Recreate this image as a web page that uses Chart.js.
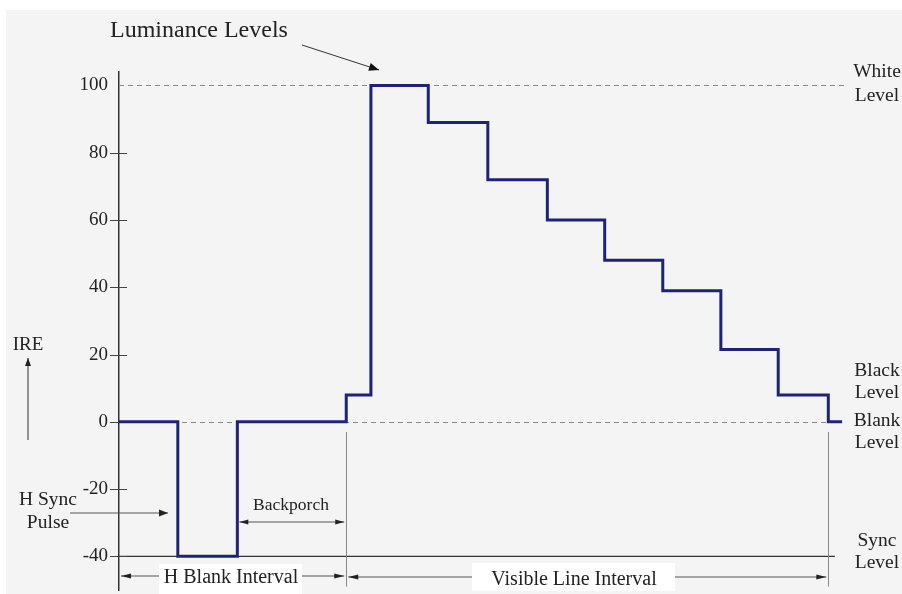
<!DOCTYPE html>
<html>
<head>
<meta charset="utf-8">
<script src="https://cdn.jsdelivr.net/npm/chart.js@4/dist/chart.umd.min.js"></script>
<style>
html,body{margin:0;padding:0;background:#fff;}
#wrap{width:902px;height:594px;position:relative;}
</style>
</head>
<body>
<div id="wrap"><canvas id="c" width="902" height="594"></canvas></div>
<script>
// Step edges (time units along the line) and the IRE level held between consecutive edges
const edges  = [0, 8.1, 16.3, 31.3, 34.7, 42.6, 50.8, 59.0, 66.9, 74.9, 82.9, 90.8, 97.7, 99.6];
const levels = [0, -40, 0, 8, 100, 89, 72, 60, 48, 39, 21.5, 8, 0];
const yTickValues = [-40, -20, 0, 20, 40, 60, 80, 100];
const whiteLevel = 100, blankLevel = 0, syncLevel = -40;
const blankEnd = 31.3, visibleEnd = 97.7;

const points = [];
for (let i = 0; i < levels.length; i++) {
  points.push({x: edges[i], y: levels[i]});
  points.push({x: edges[i + 1], y: levels[i]});
}

const SERIF = '"Liberation Serif", "DejaVu Serif", serif';
const INK = '#222';

function arrowHead(ctx, x, y, ang, len, w) {
  ctx.save();
  ctx.translate(x, y); ctx.rotate(ang);
  ctx.beginPath();
  ctx.moveTo(0, 0); ctx.lineTo(-len, -w); ctx.lineTo(-len, w); ctx.closePath();
  ctx.fill();
  ctx.restore();
}
function arrow(ctx, x1, y1, x2, y2, both, len, w) {
  ctx.beginPath(); ctx.moveTo(x1, y1); ctx.lineTo(x2, y2); ctx.stroke();
  const a = Math.atan2(y2 - y1, x2 - x1);
  arrowHead(ctx, x2, y2, a, len, w);
  if (both) arrowHead(ctx, x1, y1, a + Math.PI, len, w);
}

const bgPlugin = {
  id: 'bg',
  beforeDraw(chart) {
    const ctx = chart.ctx;
    ctx.save();
    ctx.fillStyle = '#ffffff';
    ctx.fillRect(0, 0, chart.width, chart.height);
    ctx.fillStyle = '#f4f4f4';
    ctx.fillRect(6, 10, chart.width - 6, chart.height - 10);
    ctx.restore();
  },
  beforeDatasetsDraw(chart) {
    const ctx = chart.ctx, xs = chart.scales.x, ys = chart.scales.y;
    const left = xs.getPixelForValue(0);
    ctx.save();
    // dashed reference levels
    ctx.strokeStyle = '#8a8a8a'; ctx.lineWidth = 1; ctx.setLineDash([5, 4]);
    let y = Math.round(ys.getPixelForValue(whiteLevel)) + 0.5;
    ctx.beginPath(); ctx.moveTo(left, y); ctx.lineTo(xs.getPixelForValue(100), y); ctx.stroke();
    y = Math.round(ys.getPixelForValue(blankLevel)) + 0.5;
    ctx.beginPath(); ctx.moveTo(left, y); ctx.lineTo(xs.getPixelForValue(99.6), y); ctx.stroke();
    ctx.setLineDash([]);
    // sync level solid
    ctx.strokeStyle = '#333'; ctx.lineWidth = 1.3;
    y = ys.getPixelForValue(syncLevel);
    ctx.beginPath(); ctx.moveTo(left, y); ctx.lineTo(xs.getPixelForValue(98.6), y); ctx.stroke();
    // vertical interval markers
    ctx.strokeStyle = '#888'; ctx.lineWidth = 1;
    [blankEnd, visibleEnd].forEach(v => {
      const x = Math.round(xs.getPixelForValue(v)) + 0.5;
      ctx.beginPath(); ctx.moveTo(x, ys.getPixelForValue(-3)); ctx.lineTo(x, ys.getPixelForValue(-49)); ctx.stroke();
    });
    // tick crosses
    ctx.strokeStyle = '#444'; ctx.lineWidth = 1;
    yTickValues.forEach(v => {
      if (v === whiteLevel) return;
      const ty = Math.round(ys.getPixelForValue(v)) + 0.5;
      ctx.beginPath(); ctx.moveTo(left - 9, ty); ctx.lineTo(left + 8, ty); ctx.stroke();
    });
    ctx.restore();
  },
  afterDraw(chart) {
    const ctx = chart.ctx, xs = chart.scales.x;
    ctx.save();
    ctx.fillStyle = INK; ctx.strokeStyle = '#333'; ctx.lineWidth = 1;
    ctx.textBaseline = 'middle';

    // Luminance Levels
    ctx.font = '24px ' + SERIF; ctx.textAlign = 'left';
    ctx.fillText('Luminance Levels', 110, 31);
    ctx.fillStyle = '#111';
    arrow(ctx, 302, 45, 379, 70, false, 10, 4);

    // right labels
    ctx.fillStyle = INK; ctx.font = '19.5px ' + SERIF; ctx.textAlign = 'center';
    [['White', 72], ['Level', 96], ['Black', 371], ['Level', 393], ['Blank', 421], ['Level', 443], ['Sync', 541], ['Level', 563]]
      .forEach(r => ctx.fillText(r[0], 877, r[1]));

    // IRE
    ctx.font = '19px ' + SERIF;
    ctx.fillText('IRE', 28, 345);
    arrow(ctx, 28, 440, 28, 358, false, 8, 3);

    // H Sync Pulse
    ctx.font = '19.5px ' + SERIF;
    ctx.fillText('H Sync', 48, 500);
    ctx.fillText('Pulse', 48, 523);
    ctx.strokeStyle = '#555';
    arrow(ctx, 70, 513, 168, 513, false, 9, 3.5);

    // Backporch
    ctx.font = '17.5px ' + SERIF;
    ctx.fillText('Backporch', 291, 505);
    const bx1 = xs.getPixelForValue(16.3) + 2, bx2 = xs.getPixelForValue(blankEnd) - 2;
    arrow(ctx, bx1, 522, bx2, 522, true, 9, 2.5);

    // H Blank Interval
    const hb1 = xs.getPixelForValue(0) + 2, hb2 = xs.getPixelForValue(blankEnd) - 2;
    arrow(ctx, hb1, 576, hb2, 576, true, 10, 2.5);
    ctx.fillStyle = '#fff'; ctx.fillRect(159, 564, 143, 30);
    ctx.fillStyle = INK; ctx.font = '20px ' + SERIF;
    ctx.fillText('H Blank Interval', 231, 578);

    // Visible Line Interval
    const v1 = xs.getPixelForValue(blankEnd) + 2, v2 = xs.getPixelForValue(visibleEnd) - 2;
    arrow(ctx, v1, 577, v2, 577, true, 10, 2.5);
    ctx.fillStyle = '#fff'; ctx.fillRect(472, 563, 203, 28);
    ctx.fillStyle = INK;
    ctx.fillText('Visible Line Interval', 574, 580);
    ctx.restore();
  }
};

new Chart(document.getElementById('c'), {
  type: 'line',
  data: {
    datasets: [{
      data: points,
      borderColor: '#1f2378',
      borderWidth: 3,
      pointRadius: 0,
      tension: 0,
      fill: false,
      borderJoinStyle: 'miter',
      borderCapStyle: 'butt'
    }]
  },
  options: {
    responsive: false,
    animation: false,
    layout: { padding: { left: 0, top: 72, right: 57, bottom: 4 } },
    plugins: { legend: { display: false }, tooltip: { enabled: false } },
    scales: {
      x: { type: 'linear', min: 0, max: 100, display: false },
      y: {
        type: 'linear', min: -50, max: 104,
        afterFit(scale) { scale.width = 119; scale.paddingTop = 0; scale.paddingBottom = 0; },
        afterBuildTicks(scale) { scale.ticks = yTickValues.map(v => ({ value: v })); },
        grid: { display: true, drawOnChartArea: false, drawTicks: false },
        border: { display: true, color: '#333', width: 1.5 },
        ticks: { padding: 11, color: INK, font: { family: SERIF, size: 19 } }
      }
    }
  },
  plugins: [bgPlugin]
});
</script>
</body>
</html>
